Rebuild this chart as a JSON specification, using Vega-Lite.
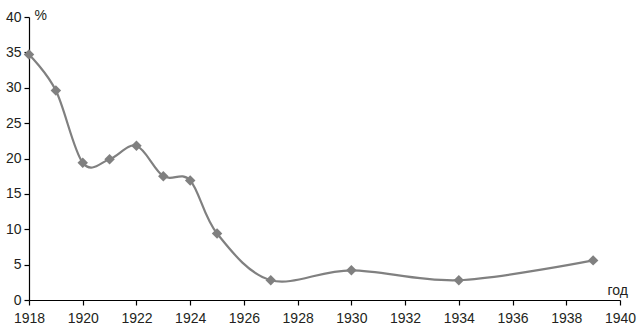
{
  "$schema": "https://vega.github.io/schema/vega-lite/v6.json",
  "width": 591,
  "height": 283,
  "autosize": "none",
  "padding": {"left": 29, "top": 17, "right": 20, "bottom": 34},
  "background": "white",
  "config": {
    "view": {"stroke": null},
    "axis": {
      "labelFont": "Liberation Sans",
      "labelFontSize": 14,
      "labelColor": "#231f20",
      "domainColor": "#000000",
      "tickColor": "#000000",
      "domainWidth": 1.2,
      "tickWidth": 1.2,
      "tickSize": 5,
      "grid": false,
      "labelFlush": false,
      "labelOverlap": false,
      "titleFont": "Liberation Sans",
      "titleFontSize": 14,
      "titleFontWeight": "normal",
      "titleColor": "#231f20"
    }
  },
  "data": {
    "values": [
      {"year": 1918, "pct": 34.7},
      {"year": 1919, "pct": 29.6},
      {"year": 1920, "pct": 19.4},
      {"year": 1921, "pct": 19.9},
      {"year": 1922, "pct": 21.8},
      {"year": 1923, "pct": 17.5},
      {"year": 1924, "pct": 16.9},
      {"year": 1925, "pct": 9.4},
      {"year": 1927, "pct": 2.8},
      {"year": 1930, "pct": 4.2},
      {"year": 1934, "pct": 2.8},
      {"year": 1939, "pct": 5.6}
    ]
  },
  "encoding": {
    "x": {
      "field": "year",
      "type": "quantitative",
      "scale": {"domain": [1918, 1940], "nice": false, "zero": false},
      "axis": {
        "values": [1918, 1920, 1922, 1924, 1926, 1928, 1930, 1932, 1934, 1936, 1938, 1940],
        "format": "d",
        "labelPadding": 6,
        "title": "год",
        "titleAngle": 0,
        "titleX": 578,
        "titleY": -6,
        "titleAlign": "left",
        "titleBaseline": "alphabetic"
      }
    },
    "y": {
      "field": "pct",
      "type": "quantitative",
      "scale": {"domain": [0, 40], "nice": false},
      "axis": {
        "values": [0, 5, 10, 15, 20, 25, 30, 35, 40],
        "labelPadding": 3,
        "title": "%",
        "titleAngle": 0,
        "titleX": 5,
        "titleY": 2,
        "titleAlign": "left",
        "titleBaseline": "alphabetic"
      }
    }
  },
  "layer": [
    {
      "mark": {"type": "line", "interpolate": "cardinal", "color": "#808080", "strokeWidth": 2.2}
    },
    {
      "mark": {"type": "point", "shape": "diamond", "filled": true, "color": "#808080", "opacity": 1, "size": 110}
    }
  ]
}
